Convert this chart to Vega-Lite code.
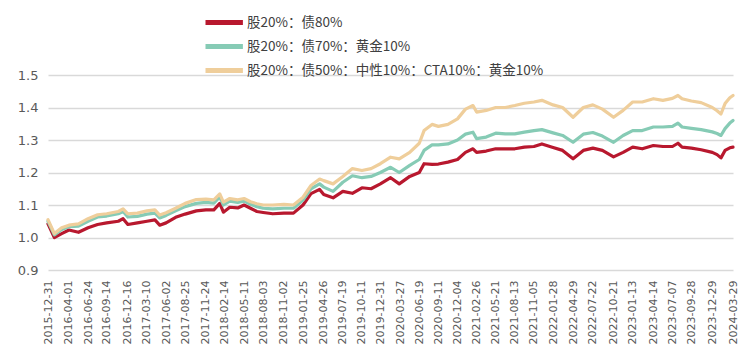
{
  "$schema": "https://vega.github.io/schema/vega-lite/v6.json",
  "width": 685,
  "height": 195,
  "autosize": "none",
  "padding": {"left": 48, "top": 75, "right": 17, "bottom": 94},
  "background": "white",
  "config": {"view": {"stroke": null}, "font": "Noto Sans CJK SC"},
  "data": {"values": [
    {"date":"2015-12-31","r":1.042,"g":1.050,"t":1.055},
    {"date":"2016-01-28","r":1.000,"g":1.008,"t":1.012},
    {"date":"2016-02-29","r":1.012,"g":1.025,"t":1.030},
    {"date":"2016-04-01","r":1.023,"g":1.033,"t":1.038},
    {"date":"2016-05-13","r":1.016,"g":1.035,"t":1.042},
    {"date":"2016-06-24","r":1.030,"g":1.050,"t":1.058},
    {"date":"2016-08-05","r":1.040,"g":1.063,"t":1.070},
    {"date":"2016-09-14","r":1.045,"g":1.066,"t":1.073},
    {"date":"2016-11-04","r":1.050,"g":1.073,"t":1.080},
    {"date":"2016-11-25","r":1.058,"g":1.080,"t":1.088},
    {"date":"2016-12-16","r":1.040,"g":1.063,"t":1.073},
    {"date":"2017-01-27","r":1.045,"g":1.065,"t":1.075},
    {"date":"2017-03-10","r":1.050,"g":1.072,"t":1.082},
    {"date":"2017-04-14","r":1.054,"g":1.075,"t":1.085},
    {"date":"2017-05-05","r":1.038,"g":1.060,"t":1.069},
    {"date":"2017-06-02","r":1.045,"g":1.068,"t":1.076},
    {"date":"2017-07-14","r":1.062,"g":1.082,"t":1.090},
    {"date":"2017-08-25","r":1.072,"g":1.095,"t":1.105},
    {"date":"2017-10-13","r":1.082,"g":1.105,"t":1.117},
    {"date":"2017-11-24","r":1.085,"g":1.108,"t":1.118},
    {"date":"2017-12-29","r":1.085,"g":1.106,"t":1.116},
    {"date":"2018-01-24","r":1.105,"g":1.125,"t":1.134},
    {"date":"2018-02-09","r":1.078,"g":1.100,"t":1.109},
    {"date":"2018-03-09","r":1.093,"g":1.112,"t":1.120},
    {"date":"2018-04-13","r":1.091,"g":1.108,"t":1.116},
    {"date":"2018-05-11","r":1.100,"g":1.112,"t":1.120},
    {"date":"2018-06-08","r":1.090,"g":1.102,"t":1.110},
    {"date":"2018-07-06","r":1.080,"g":1.095,"t":1.104},
    {"date":"2018-08-03","r":1.077,"g":1.090,"t":1.100},
    {"date":"2018-09-14","r":1.073,"g":1.088,"t":1.100},
    {"date":"2018-11-02","r":1.075,"g":1.090,"t":1.102},
    {"date":"2018-12-14","r":1.075,"g":1.090,"t":1.100},
    {"date":"2019-01-25","r":1.100,"g":1.115,"t":1.124},
    {"date":"2019-03-01","r":1.135,"g":1.150,"t":1.160},
    {"date":"2019-04-08","r":1.148,"g":1.165,"t":1.180},
    {"date":"2019-04-26","r":1.132,"g":1.155,"t":1.175},
    {"date":"2019-06-06","r":1.122,"g":1.142,"t":1.165},
    {"date":"2019-07-19","r":1.142,"g":1.170,"t":1.188},
    {"date":"2019-08-30","r":1.136,"g":1.190,"t":1.212},
    {"date":"2019-10-11","r":1.153,"g":1.184,"t":1.206},
    {"date":"2019-11-20","r":1.150,"g":1.188,"t":1.212},
    {"date":"2019-12-31","r":1.165,"g":1.200,"t":1.227},
    {"date":"2020-02-14","r":1.184,"g":1.216,"t":1.247},
    {"date":"2020-03-23","r":1.165,"g":1.200,"t":1.242},
    {"date":"2020-05-08","r":1.188,"g":1.222,"t":1.262},
    {"date":"2020-06-19","r":1.200,"g":1.240,"t":1.290},
    {"date":"2020-07-10","r":1.227,"g":1.268,"t":1.329},
    {"date":"2020-08-14","r":1.225,"g":1.285,"t":1.348},
    {"date":"2020-09-11","r":1.226,"g":1.285,"t":1.342},
    {"date":"2020-10-23","r":1.232,"g":1.288,"t":1.348},
    {"date":"2020-12-04","r":1.240,"g":1.300,"t":1.365},
    {"date":"2021-01-08","r":1.262,"g":1.318,"t":1.395},
    {"date":"2021-02-10","r":1.273,"g":1.324,"t":1.406},
    {"date":"2021-02-26","r":1.262,"g":1.304,"t":1.386},
    {"date":"2021-04-09","r":1.266,"g":1.309,"t":1.391},
    {"date":"2021-05-21","r":1.273,"g":1.321,"t":1.400},
    {"date":"2021-07-02","r":1.273,"g":1.319,"t":1.400},
    {"date":"2021-08-13","r":1.273,"g":1.319,"t":1.406},
    {"date":"2021-09-24","r":1.278,"g":1.324,"t":1.413},
    {"date":"2021-11-05","r":1.280,"g":1.329,"t":1.417},
    {"date":"2021-12-10","r":1.288,"g":1.332,"t":1.422},
    {"date":"2022-01-28","r":1.277,"g":1.322,"t":1.408},
    {"date":"2022-03-11","r":1.268,"g":1.314,"t":1.400},
    {"date":"2022-04-26","r":1.242,"g":1.293,"t":1.370},
    {"date":"2022-06-10","r":1.268,"g":1.318,"t":1.400},
    {"date":"2022-07-22","r":1.275,"g":1.323,"t":1.408},
    {"date":"2022-09-02","r":1.268,"g":1.312,"t":1.395},
    {"date":"2022-10-21","r":1.248,"g":1.293,"t":1.370},
    {"date":"2022-12-02","r":1.262,"g":1.314,"t":1.391},
    {"date":"2023-01-13","r":1.278,"g":1.329,"t":1.417},
    {"date":"2023-02-24","r":1.273,"g":1.329,"t":1.417},
    {"date":"2023-04-14","r":1.283,"g":1.340,"t":1.427},
    {"date":"2023-05-26","r":1.280,"g":1.340,"t":1.422},
    {"date":"2023-07-07","r":1.280,"g":1.342,"t":1.428},
    {"date":"2023-07-31","r":1.290,"g":1.352,"t":1.437},
    {"date":"2023-08-18","r":1.278,"g":1.340,"t":1.427},
    {"date":"2023-09-28","r":1.275,"g":1.336,"t":1.420},
    {"date":"2023-11-10","r":1.270,"g":1.332,"t":1.415},
    {"date":"2023-12-29","r":1.262,"g":1.325,"t":1.400},
    {"date":"2024-01-19","r":1.255,"g":1.320,"t":1.390},
    {"date":"2024-02-05","r":1.245,"g":1.314,"t":1.380},
    {"date":"2024-02-23","r":1.268,"g":1.335,"t":1.412},
    {"date":"2024-03-15","r":1.276,"g":1.352,"t":1.430},
    {"date":"2024-03-29","r":1.278,"g":1.360,"t":1.437}
  ]},
  "transform": [
    {"fold": ["r", "g", "t"], "as": ["key", "value"]}
  ],
  "mark": {"type": "line", "strokeWidth": 3.2, "strokeJoin": "round", "strokeCap": "round"},
  "encoding": {
    "x": {
      "field": "date", "type": "temporal",
      "scale": {"type": "utc", "domain": [{"year": 2015, "month": 12, "date": 31, "utc": true}, {"year": 2024, "month": 3, "date": 29, "utc": true}]},
      "axis": {
        "title": null, "labelExpr": "utcFormat(datum.value, '%Y-%m-%d')", "labelAngle": 270,
        "labelFontSize": 11, "labelColor": "#595959", "labelFont": "DejaVu Sans",
        "ticks": false, "domain": false, "grid": false, "labelPadding": 10, "labelOverlap": false,
        "values": [
          {"year":2015,"month":12,"date":31,"utc":true},{"year":2016,"month":4,"date":1,"utc":true},
          {"year":2016,"month":6,"date":24,"utc":true},{"year":2016,"month":9,"date":14,"utc":true},
          {"year":2016,"month":12,"date":16,"utc":true},{"year":2017,"month":3,"date":10,"utc":true},
          {"year":2017,"month":6,"date":2,"utc":true},{"year":2017,"month":8,"date":25,"utc":true},
          {"year":2017,"month":11,"date":24,"utc":true},{"year":2018,"month":2,"date":14,"utc":true},
          {"year":2018,"month":5,"date":11,"utc":true},{"year":2018,"month":8,"date":3,"utc":true},
          {"year":2018,"month":11,"date":2,"utc":true},{"year":2019,"month":1,"date":25,"utc":true},
          {"year":2019,"month":4,"date":26,"utc":true},{"year":2019,"month":7,"date":19,"utc":true},
          {"year":2019,"month":10,"date":11,"utc":true},{"year":2019,"month":12,"date":31,"utc":true},
          {"year":2020,"month":3,"date":27,"utc":true},{"year":2020,"month":6,"date":19,"utc":true},
          {"year":2020,"month":9,"date":11,"utc":true},{"year":2020,"month":12,"date":4,"utc":true},
          {"year":2021,"month":2,"date":26,"utc":true},{"year":2021,"month":5,"date":21,"utc":true},
          {"year":2021,"month":8,"date":13,"utc":true},{"year":2021,"month":11,"date":5,"utc":true},
          {"year":2022,"month":1,"date":28,"utc":true},{"year":2022,"month":4,"date":29,"utc":true},
          {"year":2022,"month":7,"date":22,"utc":true},{"year":2022,"month":10,"date":21,"utc":true},
          {"year":2023,"month":1,"date":13,"utc":true},{"year":2023,"month":4,"date":14,"utc":true},
          {"year":2023,"month":7,"date":7,"utc":true},{"year":2023,"month":9,"date":28,"utc":true},
          {"year":2023,"month":12,"date":29,"utc":true},{"year":2024,"month":3,"date":29,"utc":true}
        ]
      }
    },
    "y": {
      "field": "value", "type": "quantitative",
      "scale": {"domain": [0.9, 1.5], "nice": false, "zero": false},
      "axis": {
        "title": null, "values": [0.9, 1.0, 1.1, 1.2, 1.3, 1.4, 1.5], "format": ".1f",
        "labelFontSize": 13, "labelColor": "#595959", "labelFont": "DejaVu Sans",
        "ticks": false, "domain": false, "grid": true, "gridColor": "#D9D9D9", "gridWidth": 1.5,
        "labelPadding": 10
      }
    },
    "color": {
      "field": "key", "type": "nominal",
      "scale": {"domain": ["r", "g", "t"], "range": ["#B8182E", "#86CBB5", "#EFCE9B"]},
      "legend": {
        "title": null, "orient": "none", "legendX": 155, "legendY": -66, "direction": "vertical",
        "symbolType": "M-1,0H2.4", "symbolStrokeWidth": 5, "symbolSize": 484,
        "labelFontSize": 13.5, "labelColor": "#404040", "labelFont": "Noto Sans CJK SC",
        "rowPadding": -1, "labelOffset": 17, "labelLimit": 500,
        "labelExpr": "datum.value == 'r' ? '股20%：债80%' : datum.value == 'g' ? '股20%：债70%：黄金10%' : '股20%：债50%：中性10%：CTA10%：黄金10%'"
      }
    }
  }
}
